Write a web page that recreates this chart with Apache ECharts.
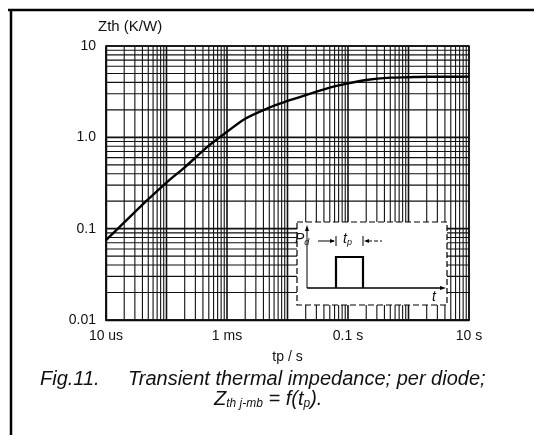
<!DOCTYPE html>
<html>
<head>
<meta charset="utf-8">
<script src="https://cdn.jsdelivr.net/npm/echarts@6/dist/echarts.min.js"></script>
<style>
  html, body { margin: 0; padding: 0; background: #fff; }
  #chart { width: 534px; height: 435px; }
</style>
</head>
<body>
<div id="chart"></div>
<script>
// pulse duration tp (s) and Zth (K/W)
var tp  = [1e-5, 2e-5, 5e-5, 1e-4, 2e-4, 5e-4, 1e-3, 2e-3, 5e-3, 1e-2, 2e-2, 5e-2, 0.1, 0.2, 0.5, 1, 2, 5, 10];
var zth = [0.075, 0.117, 0.21, 0.32, 0.47, 0.81, 1.15, 1.6, 2.12, 2.5, 2.9, 3.5, 3.9, 4.25, 4.5, 4.55, 4.6, 4.6, 4.62];

// tick labels
var xLabels = { '0.00001': '10 us', '0.001': '1 ms', '0.1': '0.1 s', '10': '10 s' };
var yLabels = { '10': '10', '1': '1.0', '0.1': '0.1', '0.01': '0.01' };

// log grid: decades and mantissas
var xDecades = [1e-5, 1e-4, 1e-3, 1e-2, 1e-1, 1];
var yDecades = [0.01, 0.1, 1];
var mantissas = [1, 2, 3, 4, 5, 6, 7, 8, 9];

function gridValues(decades, last) {
    var out = [];
    decades.forEach(function (d) {
        mantissas.forEach(function (m) {
            out.push(+(d * m).toPrecision(3));
        });
    });
    out.push(last);
    return out;
}

var xGrid = gridValues(xDecades, 10);
var yGrid = gridValues(yDecades, 10);

var chart = echarts.init(document.getElementById('chart'));
var font = '"Liberation Sans", Arial, sans-serif';

function isMajor(v) {
    return String(v).replace(/[0.]/g, '').charAt(0) === '1' || String(v).indexOf('e') > 0 && String(v).charAt(0) === '1';
}

// vertical grid lines, positioned by the x axis scale
function renderV(params, api) {
    var v = api.value(0);
    var a = api.coord([v, 10]);
    var b = api.coord([v, 0.01]);
    return { type: 'line', silent: true,
             shape: { x1: a[0], y1: a[1], x2: b[0], y2: b[1] },
             style: { stroke: '#111', lineWidth: isMajor(v) ? 1.6 : 1.1 } };
}
// horizontal grid lines, positioned by the y axis scale
function renderH(params, api) {
    var v = api.value(1);
    var a = api.coord([1e-5, v]);
    var b = api.coord([10, v]);
    return { type: 'line', silent: true,
             shape: { x1: a[0], y1: a[1], x2: b[0], y2: b[1] },
             style: { stroke: '#111', lineWidth: isMajor(v) ? 1.6 : 1.1 } };
}

var option = {
    animation: false,
    backgroundColor: '#fff',
    grid: {
        left: 106, right: 65, top: 46, bottom: 115,
        show: true, borderColor: '#000', borderWidth: 1.4
    },
    xAxis: {
        type: 'log', logBase: 10, min: 1e-5, max: 10, splitNumber: 6,
        name: 'tp / s', nameLocation: 'middle', nameGap: 30,
        nameTextStyle: { fontFamily: font, fontSize: 14, color: '#111' },
        axisLine: { show: true, lineStyle: { color: '#000', width: 1.4 } },
        axisTick: { show: false },
        splitLine: { show: false },
        axisLabel: {
            margin: 9, fontFamily: font, fontSize: 14, color: '#111',
            formatter: function (v) {
                var k = String(+v.toPrecision(3));
                return xLabels[k] || '';
            }
        }
    },
    yAxis: {
        type: 'log', logBase: 10, min: 0.01, max: 10, splitNumber: 3,
        name: 'Zth (K/W)', nameLocation: 'end', nameGap: 12,
        nameTextStyle: { fontFamily: font, fontSize: 15, color: '#111', align: 'left', padding: [0, 0, 0, -8] },
        axisLine: { show: true, lineStyle: { color: '#000', width: 1.4 } },
        axisTick: { show: false },
        splitLine: { show: false },
        axisLabel: {
            margin: 10, fontFamily: font, fontSize: 14, color: '#111',
            formatter: function (v) {
                var k = String(+v.toPrecision(3));
                return yLabels[k] || '';
            }
        }
    },
    series: [
        {
            type: 'custom', silent: true, z: 1,
            renderItem: renderV,
            encode: { x: 0, y: 1 },
            data: xGrid.map(function (v) { return [v, 1]; })
        },
        {
            type: 'custom', silent: true, z: 1,
            renderItem: renderH,
            encode: { x: 0, y: 1 },
            data: yGrid.map(function (v) { return [1e-3, v]; })
        },
        {
            name: 'Zth',
            type: 'line',
            z: 5,
            smooth: 0.3,
            showSymbol: false,
            lineStyle: { color: '#000', width: 2.4 },
            data: tp.map(function (t, i) { return [t, zth[i]]; })
        }
    ],
    graphic: [
        // outer frame
        { type: 'line', z: 100, shape: { x1: 8, y1: 10, x2: 534, y2: 10 }, style: { stroke: '#000', lineWidth: 2.5 } },
        { type: 'line', z: 100, shape: { x1: 11, y1: 10, x2: 11, y2: 435 }, style: { stroke: '#000', lineWidth: 2.5 } },
        // inset pulse diagram
        { type: 'rect', z: 100, shape: { x: 297, y: 222, width: 150, height: 83 },
          style: { fill: '#fff', stroke: '#000', lineWidth: 1.2, lineDash: [6, 3] } },
        { type: 'line', z: 101, shape: { x1: 307, y1: 288, x2: 307, y2: 228 }, style: { stroke: '#000', lineWidth: 1 } },
        { type: 'polygon', z: 101, shape: { points: [[307, 225], [305, 231], [309, 231]] }, style: { fill: '#000' } },
        { type: 'line', z: 101, shape: { x1: 307, y1: 288, x2: 443, y2: 288 }, style: { stroke: '#000', lineWidth: 1.4 } },
        { type: 'polygon', z: 101, shape: { points: [[446, 288], [440, 286], [440, 290]] }, style: { fill: '#000' } },
        { type: 'polyline', z: 101, shape: { points: [[336, 288], [336, 257], [363, 257], [363, 288]] },
          style: { stroke: '#000', lineWidth: 2.2, fill: null } },
        { type: 'line', z: 101, shape: { x1: 318, y1: 241, x2: 334, y2: 241 }, style: { stroke: '#000', lineWidth: 1 } },
        { type: 'polygon', z: 101, shape: { points: [[335, 241], [330, 239], [330, 243]] }, style: { fill: '#000' } },
        { type: 'line', z: 101, shape: { x1: 336, y1: 236, x2: 336, y2: 246 }, style: { stroke: '#000', lineWidth: 1 } },
        { type: 'line', z: 101, shape: { x1: 363, y1: 236, x2: 363, y2: 246 }, style: { stroke: '#000', lineWidth: 1 } },
        { type: 'polygon', z: 101, shape: { points: [[364, 241], [369, 239], [369, 243]] }, style: { fill: '#000' } },
        { type: 'line', z: 101, shape: { x1: 368, y1: 241, x2: 382, y2: 241 }, style: { stroke: '#000', lineWidth: 1, lineDash: [4, 2] } },
        { type: 'text', z: 101, left: 343, top: 232,
          style: { text: '{i|t}{s|p}', rich: {
              i: { fontFamily: font, fontStyle: 'italic', fontSize: 14, fill: '#111' },
              s: { fontFamily: font, fontStyle: 'italic', fontSize: 9, fill: '#111', verticalAlign: 'bottom', padding: [6, 0, 0, 0] } } } },
        { type: 'text', z: 101, left: 295, top: 232,
          style: { text: '{i|P}{s|d}', rich: {
              i: { fontFamily: font, fontStyle: 'italic', fontSize: 14, fill: '#111' },
              s: { fontFamily: font, fontStyle: 'italic', fontSize: 9, fill: '#111', verticalAlign: 'bottom', padding: [6, 0, 0, 0] } } } },
        { type: 'text', z: 101, left: 432, top: 290,
          style: { text: 't', fontFamily: font, fontStyle: 'italic', fontSize: 14, fill: '#111' } },
        // caption
        { type: 'text', z: 100, left: 40, top: 369,
          style: { text: 'Fig.11.', fontFamily: font, fontStyle: 'italic', fontSize: 20, fill: '#111' } },
        { type: 'text', z: 100, left: 128, top: 369,
          style: { text: 'Transient thermal impedance; per diode;', fontFamily: font,
                   fontStyle: 'italic', fontSize: 20, fill: '#111' } },
        { type: 'text', z: 100, left: 214, top: 389,
          style: { text: '{z|Z}{s|th j-mb}{z| = f(t}{s|p}{z|).}', rich: {
              z: { fontFamily: font, fontStyle: 'italic', fontSize: 20, fill: '#111' },
              s: { fontFamily: font, fontStyle: 'italic', fontSize: 12, fill: '#111', verticalAlign: 'bottom', padding: [10, 0, 0, 0] } } } }
    ]
};

chart.setOption(option);
</script>
</body>
</html>
